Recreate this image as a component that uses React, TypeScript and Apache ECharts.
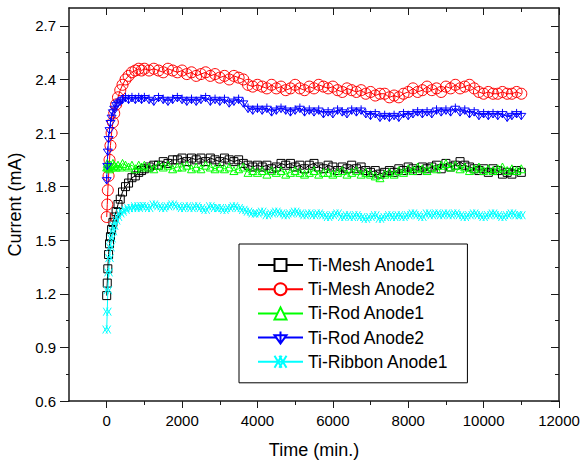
import { useEffect, useRef } from 'react';
import * as echarts from 'echarts';

const seriesNames = ['Ti-Mesh Anode1', 'Ti-Mesh Anode2', 'Ti-Rod Anode1', 'Ti-Rod Anode2', 'Ti-Ribbon Anode1'];

const time = [
  0, 15, 30, 50, 75, 100, 130, 165, 200, 250, 300, 360, 420, 500, 580, 670, 760, 850, 925,
  1000, 1125, 1250, 1375, 1500, 1625, 1750, 1875,
  2000, 2125, 2250, 2375, 2500, 2625, 2750, 2875,
  3000, 3125, 3250, 3375, 3500, 3625, 3750, 3875,
  4000, 4125, 4250, 4375, 4500, 4625, 4750, 4875,
  5000, 5125, 5250, 5375, 5500, 5625, 5750, 5875,
  6000, 6125, 6250, 6375, 6500, 6625, 6750, 6875,
  7000, 7125, 7250, 7375, 7500, 7625, 7750, 7875,
  8000, 8125, 8250, 8375, 8500, 8625, 8750, 8875,
  9000, 9125, 9250, 9375, 9500, 9625, 9750, 9875,
  10000, 10125, 10250, 10375, 10500, 10625, 10750, 10875,
  11000,
];

const meshAnode1 = [
  1.19, 1.26, 1.34, 1.42, 1.48, 1.52, 1.56, 1.60, 1.63, 1.66, 1.70, 1.73, 1.77, 1.80, 1.82, 1.85, 1.86, 1.88, 1.89,
  1.90, 1.91, 1.92, 1.92, 1.94, 1.93, 1.95, 1.95,
  1.96, 1.94, 1.96, 1.95, 1.96, 1.94, 1.96, 1.95,
  1.94, 1.96, 1.95, 1.94, 1.95, 1.93, 1.92, 1.91,
  1.92, 1.91, 1.92, 1.90, 1.91, 1.93, 1.92, 1.93,
  1.91, 1.92, 1.90, 1.92, 1.93, 1.91, 1.90, 1.92,
  1.91, 1.89, 1.91, 1.90, 1.92, 1.90, 1.91, 1.89,
  1.88, 1.89, 1.87, 1.88, 1.89, 1.88, 1.90, 1.89,
  1.91, 1.90, 1.89, 1.91, 1.90, 1.91, 1.92, 1.90,
  1.93, 1.91, 1.92, 1.94, 1.92, 1.91, 1.90, 1.89,
  1.90, 1.88, 1.90, 1.89, 1.87, 1.88, 1.87, 1.89,
  1.88,
];

const meshAnode2 = [
  1.63, 1.70, 1.78, 1.86, 1.95, 2.03, 2.10, 2.16, 2.21, 2.26, 2.30, 2.34, 2.37, 2.40, 2.42, 2.44, 2.45, 2.46, 2.45,
  2.46, 2.45, 2.46, 2.45, 2.44, 2.46, 2.45, 2.44,
  2.45, 2.43, 2.44, 2.42, 2.43, 2.44, 2.42, 2.43,
  2.41, 2.42, 2.40, 2.42, 2.41, 2.40, 2.37, 2.36,
  2.37, 2.36, 2.35, 2.37, 2.35, 2.36, 2.34, 2.35,
  2.37, 2.35, 2.34, 2.36, 2.35, 2.37, 2.36, 2.35,
  2.36, 2.34, 2.33, 2.35, 2.34, 2.33, 2.34, 2.32,
  2.33, 2.31, 2.32, 2.32, 2.30, 2.31, 2.30, 2.32,
  2.33, 2.35, 2.33, 2.34, 2.36, 2.34, 2.35, 2.33,
  2.36, 2.35, 2.37, 2.35, 2.36, 2.37, 2.35, 2.33,
  2.32, 2.33, 2.32, 2.32, 2.33, 2.32, 2.32, 2.33,
  2.32,
];

const rodAnode1 = [
  1.91, 1.93, 1.91, 1.92, 1.90, 1.92, 1.91, 1.93, 1.92, 1.91, 1.92, 1.91, 1.93, 1.92, 1.91, 1.92, 1.90, 1.92, 1.91,
  1.92, 1.91, 1.90, 1.92, 1.91, 1.92, 1.90, 1.91,
  1.91, 1.92, 1.90, 1.91, 1.90, 1.92, 1.91, 1.90,
  1.91, 1.90, 1.91, 1.89, 1.90, 1.91, 1.88, 1.89,
  1.88, 1.89, 1.87, 1.89, 1.88, 1.89, 1.87, 1.88,
  1.89, 1.88, 1.87, 1.88, 1.89, 1.87, 1.88, 1.88,
  1.87, 1.88, 1.89, 1.87, 1.88, 1.89, 1.87, 1.88,
  1.87, 1.86, 1.85, 1.87, 1.88, 1.87, 1.89, 1.88,
  1.90, 1.89, 1.91, 1.90, 1.89, 1.91, 1.90, 1.92,
  1.93, 1.91, 1.92, 1.90, 1.91, 1.89, 1.90, 1.91,
  1.89, 1.90, 1.89, 1.90, 1.91, 1.89, 1.90, 1.89,
  1.90,
];

const rodAnode2 = [
  1.84, 1.92, 2.00, 2.07, 2.12, 2.16, 2.19, 2.22, 2.24, 2.26, 2.27, 2.28, 2.29, 2.30, 2.29, 2.30, 2.29, 2.30, 2.29,
  2.30, 2.29, 2.28, 2.30, 2.29, 2.28, 2.29, 2.30,
  2.29, 2.28, 2.29, 2.28, 2.29, 2.30, 2.28, 2.29,
  2.28, 2.29, 2.27, 2.28, 2.29, 2.27, 2.24, 2.23,
  2.24, 2.23, 2.24, 2.22, 2.23, 2.24, 2.23, 2.22,
  2.23, 2.24, 2.22, 2.23, 2.22, 2.23, 2.21, 2.22,
  2.21, 2.23, 2.22, 2.21, 2.23, 2.22, 2.23, 2.21,
  2.20, 2.21, 2.19, 2.20, 2.19, 2.20, 2.19, 2.21,
  2.20, 2.21, 2.22, 2.21, 2.22, 2.21, 2.23, 2.22,
  2.23, 2.22, 2.24, 2.22, 2.23, 2.21, 2.22, 2.20,
  2.21, 2.20, 2.21, 2.20, 2.21, 2.19, 2.20, 2.21,
  2.20,
];

const ribbonAnode1 = [
  1.00, 1.10, 1.22, 1.32, 1.40, 1.46, 1.51, 1.55, 1.58, 1.61, 1.63, 1.65, 1.66, 1.67, 1.68, 1.68, 1.69, 1.68, 1.69,
  1.69, 1.68, 1.70, 1.69, 1.68, 1.69, 1.70, 1.69,
  1.68, 1.69, 1.68, 1.69, 1.68, 1.67, 1.69, 1.68,
  1.68, 1.67, 1.68, 1.69, 1.68, 1.67, 1.66, 1.65,
  1.65, 1.66, 1.64, 1.65, 1.66, 1.65, 1.64, 1.65,
  1.66, 1.65, 1.64, 1.65, 1.64, 1.65, 1.64, 1.63,
  1.64, 1.65, 1.63, 1.64, 1.63, 1.64, 1.63, 1.62,
  1.63, 1.64, 1.62, 1.63, 1.64, 1.63, 1.64, 1.63,
  1.64, 1.65, 1.64, 1.63, 1.65, 1.64, 1.65, 1.64,
  1.65, 1.64, 1.65, 1.64, 1.63, 1.64, 1.65, 1.64,
  1.63, 1.64, 1.65, 1.64, 1.63, 1.64, 1.65, 1.64,
  1.64,
];

const xMajorTicks = [0, 2000, 4000, 6000, 8000, 10000, 12000];
const xMinorTicks = [1000, 3000, 5000, 7000, 9000, 11000];
const yMajorTicks = [0.6, 0.9, 1.2, 1.5, 1.8, 2.1, 2.4, 2.7];
const yMinorTicks = [0.75, 1.05, 1.35, 1.65, 1.95, 2.25, 2.55];

const FONT = 'Liberation Sans, Arial, sans-serif';
const colors = ['#000000', '#ff0000', '#00ff00', '#0000ff', '#00ffff'];
const symbols = [
  'rect',
  'circle',
  'triangle',
  'path://M1,3 L9,3 L5,10 Z M5,0 L5,10',
  'path://M0,0 L6,10 M6,0 L0,10 M4,0 L10,10 M10,0 L4,10',
];
const symbolSizes = [8, 11, 8, 9, 8];
const seriesValues = [meshAnode1, meshAnode2, rodAnode1, rodAnode2, ribbonAnode1];

const X_MIN = -1000, X_MAX = 12000, Y_MIN = 0.6, Y_MAX = 2.8;
const lineCol = '#1a1a1a';

function xAxisDef(position: 'top' | 'bottom', ticks: number[], len: number, inside: boolean, showLine: boolean, labels: boolean) {
  return {
    type: 'value', position, min: X_MIN, max: X_MAX,
    axisLine: { show: showLine, onZero: false, lineStyle: { color: lineCol, width: 1.5 } },
    axisTick: { show: true, inside, length: len, customValues: ticks, lineStyle: { color: lineCol, width: 1 } },
    axisLabel: labels
      ? { show: true, customValues: xMajorTicks, fontSize: 15, color: '#000', fontFamily: FONT, margin: 12,
          formatter: (v: number) => String(Math.round(v)) }
      : { show: false },
    splitLine: { show: false },
  };
}

function yAxisDef(position: 'left' | 'right', ticks: number[], len: number, inside: boolean, showLine: boolean, labels: boolean) {
  return {
    type: 'value', position, min: Y_MIN, max: Y_MAX,
    axisLine: { show: showLine, onZero: false, lineStyle: { color: lineCol, width: 1.5 } },
    axisTick: { show: true, inside, length: len, customValues: ticks, lineStyle: { color: lineCol, width: 1 } },
    axisLabel: labels
      ? { show: true, customValues: yMajorTicks, fontSize: 15, color: '#000', fontFamily: FONT, margin: 13,
          formatter: (v: number) => v.toFixed(1) }
      : { show: false },
    splitLine: { show: false },
  };
}

export default function App() {
  const ref = useRef<HTMLDivElement>(null);
  useEffect(() => {
    document.body.style.margin = '0';
    const chart = echarts.init(ref.current!, null, { renderer: 'svg' });
    const xAxes: any[] = [
      { ...xAxisDef('bottom', xMajorTicks, 7, false, true, true),
        name: 'Time (min.)', nameLocation: 'middle', nameGap: 40,
        nameTextStyle: { fontSize: 18, color: '#000', fontFamily: FONT } },
      xAxisDef('bottom', xMinorTicks, 4, false, false, false),
      xAxisDef('top', xMajorTicks, 7, true, true, false),
      xAxisDef('top', xMinorTicks, 4, true, false, false),
    ];
    const yAxes: any[] = [
      { ...yAxisDef('left', yMajorTicks, 9, false, true, true),
        name: 'Current (mA)', nameLocation: 'middle', nameGap: 38,
        nameTextStyle: { fontSize: 18, color: '#000', fontFamily: FONT } },
      yAxisDef('left', yMinorTicks, 3, false, false, false),
      yAxisDef('right', yMajorTicks, 8, true, true, false),
      yAxisDef('right', yMinorTicks, 4, true, false, false),
    ];
    const series = seriesNames.map((name, i) => ({
      name,
      type: 'line',
      xAxisIndex: 0,
      yAxisIndex: 0,
      data: time.map((t, k) => [t, seriesValues[i][k]]),
      symbol: symbols[i],
      symbolSize: symbolSizes[i],
      showSymbol: true,
      itemStyle: { color: 'transparent', borderColor: colors[i], borderWidth: 1 },
      lineStyle: { color: colors[i], width: 1 },
      emphasis: { disabled: true },
    }));
    chart.setOption({
      animation: false,
      backgroundColor: '#fff',
      textStyle: { fontFamily: FONT },
      grid: { left: 69, right: 22, top: 8, bottom: 66, outerBoundsMode: 'none' },
      xAxis: xAxes,
      yAxis: yAxes,
      legend: {
        orient: 'vertical',
        left: 239,
        top: 244,
        padding: [12, 19, 12, 18],
        itemWidth: 45,
        itemHeight: 15,
        itemGap: 6.2,
        borderColor: '#000',
        borderWidth: 1,
        backgroundColor: '#fff',
        textStyle: { fontSize: 17.5, color: '#000', fontFamily: FONT },
        data: seriesNames.map((name) => ({ name, itemStyle: { color: '#fff' } })),
        selectedMode: false,
      },
      series,
    });
    return () => chart.dispose();
  }, []);
  return <div ref={ref} style={{ position: 'fixed', left: 0, top: 0, width: 581, height: 467, background: '#fff' }} />;
}
